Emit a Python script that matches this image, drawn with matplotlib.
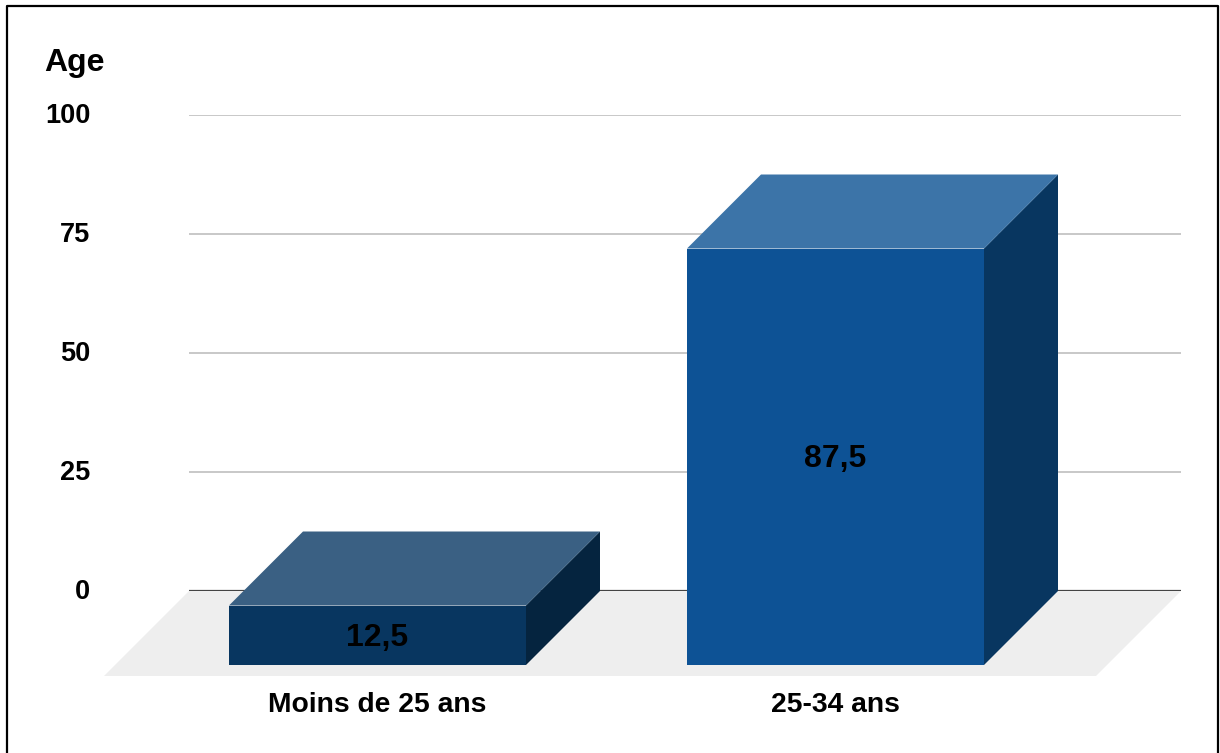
import matplotlib
matplotlib.use("Agg")
import matplotlib.pyplot as plt
from matplotlib.lines import Line2D
from matplotlib.patches import Polygon
from matplotlib.transforms import ScaledTranslation

plt.rcParams["font.family"] = ["Liberation Sans", "DejaVu Sans"]
plt.rcParams["font.weight"] = "bold"

categories = ["Moins de 25 ans", "25-34 ans"]
values = [12.5, 87.5]
value_labels = ["12,5", "87,5"]
y_ticks = [0, 25, 50, 75, 100]

front_colors = ["#083660", "#0d5295"]
side_colors = ["#05243f", "#083660"]
top_colors = ["#3a6083", "#3c74a8"]

W, H = 1220, 753
bar_width = 297 / 458
bar_depth = 74
floor_depth = 85

fig = plt.figure(figsize=(W / 100, H / 100), dpi=100, facecolor="white")
ax = fig.add_axes([189 / W, 1 - 591 / H, (1181 - 189) / W, (591 - 115) / H])
ax.set_xlim((189 - 377.5) / 458, (1181 - 377.5) / 458)
ax.set_ylim(0, 100)
for s in ax.spines.values():
    s.set_visible(False)

# one pixel expressed in data units, the 3d offset is 45 degrees on screen
px_x = (ax.get_xlim()[1] - ax.get_xlim()[0]) / (1181 - 189)
px_y = 100 / (591 - 115)
dx = bar_depth * px_x
dy = bar_depth * px_y

ax.set_yticks(y_ticks)
ax.set_xticks(range(len(categories)))
ax.set_xticklabels(categories)
ax.tick_params(axis="y", length=0, pad=71, labelsize=19.5)
ax.tick_params(axis="x", length=0, pad=73, labelsize=20.3)
ax.grid(axis="y", color="#c8c8c8", linewidth=1.4, zorder=0)
ax.grid(axis="x", visible=False)
ax.set_axisbelow(True)
ax.axhline(0, color="#444444", linewidth=1.6, zorder=1)

# y labels sit slightly above their gridline
up = ScaledTranslation(0, 2 / 100, fig.dpi_scale_trans)
for label in ax.get_yticklabels():
    label.set_transform(label.get_transform() + up)

# floor of the 3d box
xmin, xmax = ax.get_xlim()
fx = floor_depth * px_x
fy = floor_depth * px_y
ax.add_patch(Polygon([(xmin, 0), (xmax, 0), (xmax - fx, -fy), (xmin - fx, -fy)],
                     facecolor="#eeeeee", edgecolor="none", clip_on=False, zorder=1.5))

for i, v in enumerate(values):
    left = i - bar_width / 2
    right = i + bar_width / 2
    ax.bar(i, v, bar_width, bottom=-dy, color=front_colors[i], clip_on=False, zorder=3)
    ax.add_patch(Polygon([(right, -dy), (right + dx, 0), (right + dx, v), (right, v - dy)],
                         facecolor=side_colors[i], edgecolor="none", clip_on=False, zorder=3))
    ax.add_patch(Polygon([(left, v - dy), (right, v - dy), (right + dx, v), (left + dx, v)],
                         facecolor=top_colors[i], edgecolor="none", clip_on=False, zorder=3))
    ax.text(i, v / 2 - dy - 2.5 * px_y, value_labels[i], ha="center", va="center", fontsize=23,
            color="black", zorder=4)

fig.text(44 / W, 1 - 63 / H, "Age", ha="left", va="center", fontsize=23, color="black")

# frame around the chart, open at the bottom
frame_x = [6.5 / W, 6.5 / W, 1218 / W, 1218 / W]
frame_y = [0, 1 - 6 / H, 1 - 6 / H, 0]
fig.add_artist(Line2D(frame_x, frame_y, color="black", linewidth=1.6))

fig.savefig("out.png", dpi=100)
